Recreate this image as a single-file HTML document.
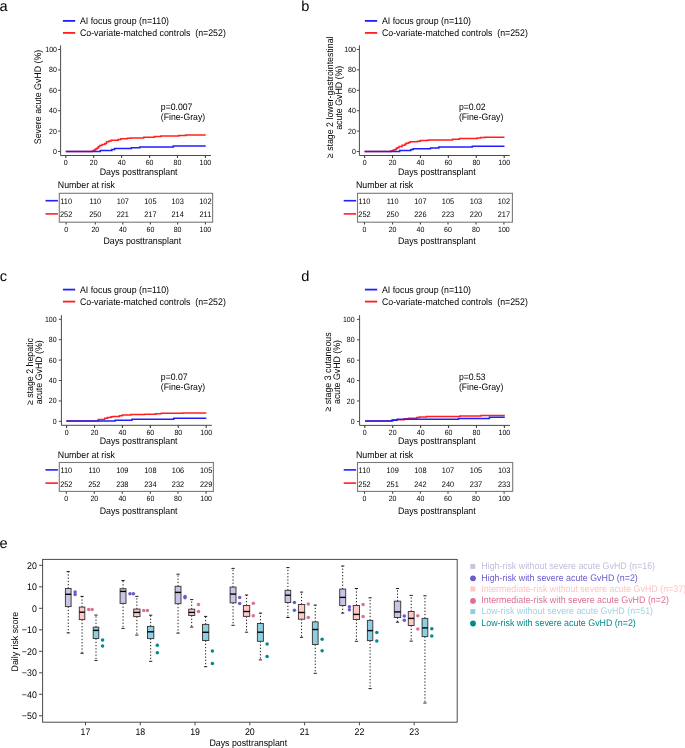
<!DOCTYPE html><html><head><meta charset="utf-8"><style>html,body{margin:0;padding:0;background:#fff;width:685px;height:748px;overflow:hidden}svg{display:block;filter:blur(0.35px)}text{font-family:"Liberation Sans", sans-serif;text-rendering:geometricPrecision}</style></head><body>
<svg width="685" height="748" viewBox="0 0 685 748">
<rect width="685" height="748" fill="#fff"/>
<text x="-0.6" y="10.8" font-size="14.6" fill="#000">a</text>
<text x="301.2" y="10.8" font-size="14.6" fill="#000">b</text>
<text x="-0.2" y="281.1" font-size="14.6" fill="#000">c</text>
<text x="301.2" y="280.8" font-size="14.6" fill="#000">d</text>
<text x="-0.4" y="548.4" font-size="14.6" fill="#000">e</text>
<g stroke-width="1.8" fill="none"><path d="M62.9 20.9H75.2" stroke="#1f1fff"/><path d="M62.9 32.9H75.2" stroke="#ff1f1f"/></g>
<text transform="translate(79.9 23.8) scale(0.9259 1)" font-size="9.5" fill="#000">AI focus group (n=110)</text>
<text transform="translate(79.9 36) scale(0.9259 1)" font-size="9.5" fill="#000" xml:space="preserve">Co-variate-matched controls  (n=252)</text>
<path d="M60.6 45.3V155.5H211" stroke="#4a4a4a" stroke-width="1" fill="none"/>
<path d="M58 151.5H60.6" stroke="#4a4a4a" stroke-width="1"/>
<text transform="translate(56.9 154) scale(0.9259 1)" font-size="7.56" fill="#000" text-anchor="end">0</text>
<path d="M58 131.1H60.6" stroke="#4a4a4a" stroke-width="1"/>
<text transform="translate(56.9 133.6) scale(0.9259 1)" font-size="7.56" fill="#000" text-anchor="end">20</text>
<path d="M58 110.7H60.6" stroke="#4a4a4a" stroke-width="1"/>
<text transform="translate(56.9 113.2) scale(0.9259 1)" font-size="7.56" fill="#000" text-anchor="end">40</text>
<path d="M58 90.3H60.6" stroke="#4a4a4a" stroke-width="1"/>
<text transform="translate(56.9 92.8) scale(0.9259 1)" font-size="7.56" fill="#000" text-anchor="end">60</text>
<path d="M58 69.9H60.6" stroke="#4a4a4a" stroke-width="1"/>
<text transform="translate(56.9 72.4) scale(0.9259 1)" font-size="7.56" fill="#000" text-anchor="end">80</text>
<path d="M58 49.5H60.6" stroke="#4a4a4a" stroke-width="1"/>
<text transform="translate(56.9 52) scale(0.9259 1)" font-size="7.56" fill="#000" text-anchor="end">100</text>
<path d="M65.8 155.5V158.1" stroke="#3a3a3a" stroke-width="1.1"/>
<text transform="translate(65.8 164.8) scale(0.9259 1)" font-size="7.56" fill="#000" text-anchor="middle">0</text>
<path d="M93.72 155.5V158.1" stroke="#3a3a3a" stroke-width="1.1"/>
<text transform="translate(93.72 164.8) scale(0.9259 1)" font-size="7.56" fill="#000" text-anchor="middle">20</text>
<path d="M121.64 155.5V158.1" stroke="#3a3a3a" stroke-width="1.1"/>
<text transform="translate(121.64 164.8) scale(0.9259 1)" font-size="7.56" fill="#000" text-anchor="middle">40</text>
<path d="M149.56 155.5V158.1" stroke="#3a3a3a" stroke-width="1.1"/>
<text transform="translate(149.56 164.8) scale(0.9259 1)" font-size="7.56" fill="#000" text-anchor="middle">60</text>
<path d="M177.48 155.5V158.1" stroke="#3a3a3a" stroke-width="1.1"/>
<text transform="translate(177.48 164.8) scale(0.9259 1)" font-size="7.56" fill="#000" text-anchor="middle">80</text>
<path d="M205.4 155.5V158.1" stroke="#3a3a3a" stroke-width="1.1"/>
<text transform="translate(205.4 164.8) scale(0.9259 1)" font-size="7.56" fill="#000" text-anchor="middle">100</text>
<text transform="translate(138.6 175) scale(0.9259 1)" font-size="9.5" fill="#000" text-anchor="middle">Days posttransplant</text>
<text transform="translate(40.9 97) rotate(-90) scale(0.9259 1)" font-size="9.5" fill="#000" text-anchor="middle">Severe acute GvHD (%)</text>
<text transform="translate(160.8 109.6) scale(0.9259 1)" font-size="9.4" fill="#000">p=0.007</text>
<text transform="translate(160.8 120.1) scale(0.9259 1)" font-size="9.4" fill="#000">(Fine-Gray)</text>
<path d="M65.8 151.6H92.2V150.9H93.6V150.2H95V149.5H96V148.8H97.1V148.1H98.3V146.8H99.6V145.5H102V144.6H104.8V143.4H106.6V141.8H109V141.1H111.1V140.3H118.1V139.6H120.9V138.8H127.2V138.3H130.7V138H143.7V137.3H154.5V136.5H160.8V136.1H178.8V135.6H185.8V135.1H205.7" stroke="#ff1f1f" stroke-width="1.5" fill="none"/>
<path d="M65.8 151.6H100.3V150.6H111.8V149.4H114.6V148.6H131.4V147.8H139.8V146.9H173.3V146.1H205.7" stroke="#1f1fff" stroke-width="1.5" fill="none"/>
<text transform="translate(57.8 187.7) scale(0.9259 1)" font-size="9.5" fill="#000">Number at risk</text>
<rect x="59.3" y="193.3" width="153.3" height="28.9" fill="none" stroke="#7a7a7a" stroke-width="1.1"/>
<path d="M45.5 200.7H57.9" stroke="#1f1fff" stroke-width="1.6"/>
<path d="M45.5 213.9H57.9" stroke="#ff1f1f" stroke-width="1.6"/>
<text transform="translate(66.1 203.6) scale(0.9259 1)" font-size="7.99" fill="#000" text-anchor="middle">110</text>
<text transform="translate(66.1 216.7) scale(0.9259 1)" font-size="7.99" fill="#000" text-anchor="middle">252</text>
<path d="M66.1 222.2V224.6" stroke="#484848" stroke-width="1.1"/>
<text transform="translate(66.1 231.7) scale(0.9259 1)" font-size="7.56" fill="#000" text-anchor="middle">0</text>
<text transform="translate(95.3 203.6) scale(0.9259 1)" font-size="7.99" fill="#000" text-anchor="middle">110</text>
<text transform="translate(95.3 216.7) scale(0.9259 1)" font-size="7.99" fill="#000" text-anchor="middle">250</text>
<path d="M95.3 222.2V224.6" stroke="#484848" stroke-width="1.1"/>
<text transform="translate(95.3 231.7) scale(0.9259 1)" font-size="7.56" fill="#000" text-anchor="middle">20</text>
<text transform="translate(122.8 203.6) scale(0.9259 1)" font-size="7.99" fill="#000" text-anchor="middle">107</text>
<text transform="translate(122.8 216.7) scale(0.9259 1)" font-size="7.99" fill="#000" text-anchor="middle">221</text>
<path d="M122.8 222.2V224.6" stroke="#484848" stroke-width="1.1"/>
<text transform="translate(122.8 231.7) scale(0.9259 1)" font-size="7.56" fill="#000" text-anchor="middle">40</text>
<text transform="translate(150.4 203.6) scale(0.9259 1)" font-size="7.99" fill="#000" text-anchor="middle">105</text>
<text transform="translate(150.4 216.7) scale(0.9259 1)" font-size="7.99" fill="#000" text-anchor="middle">217</text>
<path d="M150.4 222.2V224.6" stroke="#484848" stroke-width="1.1"/>
<text transform="translate(150.4 231.7) scale(0.9259 1)" font-size="7.56" fill="#000" text-anchor="middle">60</text>
<text transform="translate(177.6 203.6) scale(0.9259 1)" font-size="7.99" fill="#000" text-anchor="middle">103</text>
<text transform="translate(177.6 216.7) scale(0.9259 1)" font-size="7.99" fill="#000" text-anchor="middle">214</text>
<path d="M177.6 222.2V224.6" stroke="#484848" stroke-width="1.1"/>
<text transform="translate(177.6 231.7) scale(0.9259 1)" font-size="7.56" fill="#000" text-anchor="middle">80</text>
<text transform="translate(205.4 203.6) scale(0.9259 1)" font-size="7.99" fill="#000" text-anchor="middle">102</text>
<text transform="translate(205.4 216.7) scale(0.9259 1)" font-size="7.99" fill="#000" text-anchor="middle">211</text>
<path d="M205.4 222.2V224.6" stroke="#484848" stroke-width="1.1"/>
<text transform="translate(205.4 231.7) scale(0.9259 1)" font-size="7.56" fill="#000" text-anchor="middle">100</text>
<text transform="translate(142.3 244) scale(0.9259 1)" font-size="9.5" fill="#000" text-anchor="middle">Days posttransplant</text>
<g stroke-width="1.8" fill="none"><path d="M364.9 20.9H377.2" stroke="#1f1fff"/><path d="M364.9 32.9H377.2" stroke="#ff1f1f"/></g>
<text transform="translate(381.9 23.8) scale(0.9259 1)" font-size="9.5" fill="#000">AI focus group (n=110)</text>
<text transform="translate(381.9 36) scale(0.9259 1)" font-size="9.5" fill="#000" xml:space="preserve">Co-variate-matched controls  (n=252)</text>
<path d="M359.4 45.3V155.5H509.8" stroke="#4a4a4a" stroke-width="1" fill="none"/>
<path d="M356.8 151.5H359.4" stroke="#4a4a4a" stroke-width="1"/>
<text transform="translate(355.9 154) scale(0.9259 1)" font-size="7.56" fill="#000" text-anchor="end">0</text>
<path d="M356.8 131.1H359.4" stroke="#4a4a4a" stroke-width="1"/>
<text transform="translate(355.9 133.6) scale(0.9259 1)" font-size="7.56" fill="#000" text-anchor="end">20</text>
<path d="M356.8 110.7H359.4" stroke="#4a4a4a" stroke-width="1"/>
<text transform="translate(355.9 113.2) scale(0.9259 1)" font-size="7.56" fill="#000" text-anchor="end">40</text>
<path d="M356.8 90.3H359.4" stroke="#4a4a4a" stroke-width="1"/>
<text transform="translate(355.9 92.8) scale(0.9259 1)" font-size="7.56" fill="#000" text-anchor="end">60</text>
<path d="M356.8 69.9H359.4" stroke="#4a4a4a" stroke-width="1"/>
<text transform="translate(355.9 72.4) scale(0.9259 1)" font-size="7.56" fill="#000" text-anchor="end">80</text>
<path d="M356.8 49.5H359.4" stroke="#4a4a4a" stroke-width="1"/>
<text transform="translate(355.9 52) scale(0.9259 1)" font-size="7.56" fill="#000" text-anchor="end">100</text>
<path d="M364.6 155.5V158.1" stroke="#3a3a3a" stroke-width="1.1"/>
<text transform="translate(364.6 164.8) scale(0.9259 1)" font-size="7.56" fill="#000" text-anchor="middle">0</text>
<path d="M392.52 155.5V158.1" stroke="#3a3a3a" stroke-width="1.1"/>
<text transform="translate(392.52 164.8) scale(0.9259 1)" font-size="7.56" fill="#000" text-anchor="middle">20</text>
<path d="M420.44 155.5V158.1" stroke="#3a3a3a" stroke-width="1.1"/>
<text transform="translate(420.44 164.8) scale(0.9259 1)" font-size="7.56" fill="#000" text-anchor="middle">40</text>
<path d="M448.36 155.5V158.1" stroke="#3a3a3a" stroke-width="1.1"/>
<text transform="translate(448.36 164.8) scale(0.9259 1)" font-size="7.56" fill="#000" text-anchor="middle">60</text>
<path d="M476.28 155.5V158.1" stroke="#3a3a3a" stroke-width="1.1"/>
<text transform="translate(476.28 164.8) scale(0.9259 1)" font-size="7.56" fill="#000" text-anchor="middle">80</text>
<path d="M504.2 155.5V158.1" stroke="#3a3a3a" stroke-width="1.1"/>
<text transform="translate(504.2 164.8) scale(0.9259 1)" font-size="7.56" fill="#000" text-anchor="middle">100</text>
<text transform="translate(436.8 175) scale(0.9259 1)" font-size="9.5" fill="#000" text-anchor="middle">Days posttransplant</text>
<text transform="translate(332.8 97.3) rotate(-90) scale(0.9259 1)" font-size="9.5" fill="#000" text-anchor="middle">≥ stage 2 lower-gastrointestinal</text>
<text transform="translate(341.8 97.8) rotate(-90) scale(0.9259 1)" font-size="9.5" fill="#000" text-anchor="middle">acute GvHD (%)</text>
<text transform="translate(458.9 109.6) scale(0.9259 1)" font-size="9.4" fill="#000">p=0.02</text>
<text transform="translate(458.9 120.1) scale(0.9259 1)" font-size="9.4" fill="#000">(Fine-Gray)</text>
<path d="M364.6 151.6H391.3V150.8H393.2V150.1H395.1V149.5H396.2V148.6H397.2V147.8H399V146.4H402.1V145.3H404.9V144.3H406V143.2H408.4V142.5H410.2V141.7H417.5V141.2H420.3V140.6H427.3V140.3H429V139.9H452.5V139.2H459.5V138.5H477.1V138H480.6V137.5H484.8V137.3H504.5" stroke="#ff1f1f" stroke-width="1.5" fill="none"/>
<path d="M364.6 151.6H399.7V150.6H410.9V149.5H413.3V148.7H430.5V148H438.9V147.1H472.3V146.2H504.5" stroke="#1f1fff" stroke-width="1.5" fill="none"/>
<text transform="translate(356 187.7) scale(0.9259 1)" font-size="9.5" fill="#000">Number at risk</text>
<rect x="357.5" y="193.3" width="154.9" height="28.9" fill="none" stroke="#7a7a7a" stroke-width="1.1"/>
<path d="M343.7 200.7H356.1" stroke="#1f1fff" stroke-width="1.6"/>
<path d="M343.7 213.9H356.1" stroke="#ff1f1f" stroke-width="1.6"/>
<text transform="translate(364.5 203.6) scale(0.9259 1)" font-size="7.99" fill="#000" text-anchor="middle">110</text>
<text transform="translate(364.5 216.7) scale(0.9259 1)" font-size="7.99" fill="#000" text-anchor="middle">252</text>
<path d="M364.5 222.2V224.6" stroke="#484848" stroke-width="1.1"/>
<text transform="translate(364.5 231.7) scale(0.9259 1)" font-size="7.56" fill="#000" text-anchor="middle">0</text>
<text transform="translate(392.6 203.6) scale(0.9259 1)" font-size="7.99" fill="#000" text-anchor="middle">110</text>
<text transform="translate(392.6 216.7) scale(0.9259 1)" font-size="7.99" fill="#000" text-anchor="middle">250</text>
<path d="M392.6 222.2V224.6" stroke="#484848" stroke-width="1.1"/>
<text transform="translate(392.6 231.7) scale(0.9259 1)" font-size="7.56" fill="#000" text-anchor="middle">20</text>
<text transform="translate(420.4 203.6) scale(0.9259 1)" font-size="7.99" fill="#000" text-anchor="middle">107</text>
<text transform="translate(420.4 216.7) scale(0.9259 1)" font-size="7.99" fill="#000" text-anchor="middle">226</text>
<path d="M420.4 222.2V224.6" stroke="#484848" stroke-width="1.1"/>
<text transform="translate(420.4 231.7) scale(0.9259 1)" font-size="7.56" fill="#000" text-anchor="middle">40</text>
<text transform="translate(448 203.6) scale(0.9259 1)" font-size="7.99" fill="#000" text-anchor="middle">105</text>
<text transform="translate(448 216.7) scale(0.9259 1)" font-size="7.99" fill="#000" text-anchor="middle">223</text>
<path d="M448 222.2V224.6" stroke="#484848" stroke-width="1.1"/>
<text transform="translate(448 231.7) scale(0.9259 1)" font-size="7.56" fill="#000" text-anchor="middle">60</text>
<text transform="translate(476 203.6) scale(0.9259 1)" font-size="7.99" fill="#000" text-anchor="middle">103</text>
<text transform="translate(476 216.7) scale(0.9259 1)" font-size="7.99" fill="#000" text-anchor="middle">220</text>
<path d="M476 222.2V224.6" stroke="#484848" stroke-width="1.1"/>
<text transform="translate(476 231.7) scale(0.9259 1)" font-size="7.56" fill="#000" text-anchor="middle">80</text>
<text transform="translate(503.9 203.6) scale(0.9259 1)" font-size="7.99" fill="#000" text-anchor="middle">102</text>
<text transform="translate(503.9 216.7) scale(0.9259 1)" font-size="7.99" fill="#000" text-anchor="middle">217</text>
<path d="M503.9 222.2V224.6" stroke="#484848" stroke-width="1.1"/>
<text transform="translate(503.9 231.7) scale(0.9259 1)" font-size="7.56" fill="#000" text-anchor="middle">100</text>
<text transform="translate(436.8 244) scale(0.9259 1)" font-size="9.5" fill="#000" text-anchor="middle">Days posttransplant</text>
<g stroke-width="1.8" fill="none"><path d="M62.9 289.6H75.2" stroke="#1f1fff"/><path d="M62.9 301.6H75.2" stroke="#ff1f1f"/></g>
<text transform="translate(79.9 292.5) scale(0.9259 1)" font-size="9.5" fill="#000">AI focus group (n=110)</text>
<text transform="translate(79.9 304.7) scale(0.9259 1)" font-size="9.5" fill="#000" xml:space="preserve">Co-variate-matched controls  (n=252)</text>
<path d="M61.4 315.1V425.3H211.8" stroke="#4a4a4a" stroke-width="1" fill="none"/>
<path d="M58.8 421.3H61.4" stroke="#4a4a4a" stroke-width="1"/>
<text transform="translate(56.6 423.8) scale(0.9259 1)" font-size="7.56" fill="#000" text-anchor="end">0</text>
<path d="M58.8 400.9H61.4" stroke="#4a4a4a" stroke-width="1"/>
<text transform="translate(56.6 403.4) scale(0.9259 1)" font-size="7.56" fill="#000" text-anchor="end">20</text>
<path d="M58.8 380.5H61.4" stroke="#4a4a4a" stroke-width="1"/>
<text transform="translate(56.6 383) scale(0.9259 1)" font-size="7.56" fill="#000" text-anchor="end">40</text>
<path d="M58.8 360.1H61.4" stroke="#4a4a4a" stroke-width="1"/>
<text transform="translate(56.6 362.6) scale(0.9259 1)" font-size="7.56" fill="#000" text-anchor="end">60</text>
<path d="M58.8 339.7H61.4" stroke="#4a4a4a" stroke-width="1"/>
<text transform="translate(56.6 342.2) scale(0.9259 1)" font-size="7.56" fill="#000" text-anchor="end">80</text>
<path d="M58.8 319.3H61.4" stroke="#4a4a4a" stroke-width="1"/>
<text transform="translate(56.6 321.8) scale(0.9259 1)" font-size="7.56" fill="#000" text-anchor="end">100</text>
<path d="M66.6 425.3V427.9" stroke="#3a3a3a" stroke-width="1.1"/>
<text transform="translate(66.6 434.6) scale(0.9259 1)" font-size="7.56" fill="#000" text-anchor="middle">0</text>
<path d="M94.52 425.3V427.9" stroke="#3a3a3a" stroke-width="1.1"/>
<text transform="translate(94.52 434.6) scale(0.9259 1)" font-size="7.56" fill="#000" text-anchor="middle">20</text>
<path d="M122.44 425.3V427.9" stroke="#3a3a3a" stroke-width="1.1"/>
<text transform="translate(122.44 434.6) scale(0.9259 1)" font-size="7.56" fill="#000" text-anchor="middle">40</text>
<path d="M150.36 425.3V427.9" stroke="#3a3a3a" stroke-width="1.1"/>
<text transform="translate(150.36 434.6) scale(0.9259 1)" font-size="7.56" fill="#000" text-anchor="middle">60</text>
<path d="M178.28 425.3V427.9" stroke="#3a3a3a" stroke-width="1.1"/>
<text transform="translate(178.28 434.6) scale(0.9259 1)" font-size="7.56" fill="#000" text-anchor="middle">80</text>
<path d="M206.2 425.3V427.9" stroke="#3a3a3a" stroke-width="1.1"/>
<text transform="translate(206.2 434.6) scale(0.9259 1)" font-size="7.56" fill="#000" text-anchor="middle">100</text>
<text transform="translate(138.6 444) scale(0.9259 1)" font-size="9.5" fill="#000" text-anchor="middle">Days posttransplant</text>
<text transform="translate(33 371.6) rotate(-90) scale(0.9259 1)" font-size="9.5" fill="#000" text-anchor="middle">≥ stage 2 hepatic</text>
<text transform="translate(41.8 372.3) rotate(-90) scale(0.9259 1)" font-size="9.5" fill="#000" text-anchor="middle">acute GvHD (%)</text>
<text transform="translate(160.8 379.6) scale(0.9259 1)" font-size="9.4" fill="#000">p=0.07</text>
<text transform="translate(160.8 390.1) scale(0.9259 1)" font-size="9.4" fill="#000">(Fine-Gray)</text>
<path d="M66.4 421.1H98.1V419.4H104.7V418.3H107.5V417.4H111V416.7H113.1V416.4H119.4V415.7H122.2V415H131V414.6H144.4V414.2H155.6V413.8H161.2V413.3H182.6V412.9H206.3" stroke="#ff1f1f" stroke-width="1.5" fill="none"/>
<path d="M66.4 421.1H115.2V420.3H132V419.3H173.8V418.3H206.3" stroke="#1f1fff" stroke-width="1.5" fill="none"/>
<text transform="translate(57.8 457.5) scale(0.9259 1)" font-size="9.5" fill="#000">Number at risk</text>
<rect x="59.3" y="462.5" width="154.1" height="28.9" fill="none" stroke="#7a7a7a" stroke-width="1.1"/>
<path d="M45.5 469.9H57.9" stroke="#1f1fff" stroke-width="1.6"/>
<path d="M45.5 483.1H57.9" stroke="#ff1f1f" stroke-width="1.6"/>
<text transform="translate(66.3 473.4) scale(0.9259 1)" font-size="7.99" fill="#000" text-anchor="middle">110</text>
<text transform="translate(66.3 486.5) scale(0.9259 1)" font-size="7.99" fill="#000" text-anchor="middle">252</text>
<path d="M66.3 491.4V493.8" stroke="#484848" stroke-width="1.1"/>
<text transform="translate(66.3 500.9) scale(0.9259 1)" font-size="7.56" fill="#000" text-anchor="middle">0</text>
<text transform="translate(94.3 473.4) scale(0.9259 1)" font-size="7.99" fill="#000" text-anchor="middle">110</text>
<text transform="translate(94.3 486.5) scale(0.9259 1)" font-size="7.99" fill="#000" text-anchor="middle">252</text>
<path d="M94.3 491.4V493.8" stroke="#484848" stroke-width="1.1"/>
<text transform="translate(94.3 500.9) scale(0.9259 1)" font-size="7.56" fill="#000" text-anchor="middle">20</text>
<text transform="translate(122.3 473.4) scale(0.9259 1)" font-size="7.99" fill="#000" text-anchor="middle">109</text>
<text transform="translate(122.3 486.5) scale(0.9259 1)" font-size="7.99" fill="#000" text-anchor="middle">238</text>
<path d="M122.3 491.4V493.8" stroke="#484848" stroke-width="1.1"/>
<text transform="translate(122.3 500.9) scale(0.9259 1)" font-size="7.56" fill="#000" text-anchor="middle">40</text>
<text transform="translate(150.4 473.4) scale(0.9259 1)" font-size="7.99" fill="#000" text-anchor="middle">108</text>
<text transform="translate(150.4 486.5) scale(0.9259 1)" font-size="7.99" fill="#000" text-anchor="middle">234</text>
<path d="M150.4 491.4V493.8" stroke="#484848" stroke-width="1.1"/>
<text transform="translate(150.4 500.9) scale(0.9259 1)" font-size="7.56" fill="#000" text-anchor="middle">60</text>
<text transform="translate(178 473.4) scale(0.9259 1)" font-size="7.99" fill="#000" text-anchor="middle">106</text>
<text transform="translate(178 486.5) scale(0.9259 1)" font-size="7.99" fill="#000" text-anchor="middle">232</text>
<path d="M178 491.4V493.8" stroke="#484848" stroke-width="1.1"/>
<text transform="translate(178 500.9) scale(0.9259 1)" font-size="7.56" fill="#000" text-anchor="middle">80</text>
<text transform="translate(206.1 473.4) scale(0.9259 1)" font-size="7.99" fill="#000" text-anchor="middle">105</text>
<text transform="translate(206.1 486.5) scale(0.9259 1)" font-size="7.99" fill="#000" text-anchor="middle">229</text>
<path d="M206.1 491.4V493.8" stroke="#484848" stroke-width="1.1"/>
<text transform="translate(206.1 500.9) scale(0.9259 1)" font-size="7.56" fill="#000" text-anchor="middle">100</text>
<text transform="translate(138.6 513.9) scale(0.9259 1)" font-size="9.5" fill="#000" text-anchor="middle">Days posttransplant</text>
<g stroke-width="1.8" fill="none"><path d="M364.9 289.6H377.2" stroke="#1f1fff"/><path d="M364.9 301.6H377.2" stroke="#ff1f1f"/></g>
<text transform="translate(381.9 292.5) scale(0.9259 1)" font-size="9.5" fill="#000">AI focus group (n=110)</text>
<text transform="translate(381.9 304.7) scale(0.9259 1)" font-size="9.5" fill="#000" xml:space="preserve">Co-variate-matched controls  (n=252)</text>
<path d="M359.6 315.2V425.4H510" stroke="#4a4a4a" stroke-width="1" fill="none"/>
<path d="M357 421.4H359.6" stroke="#4a4a4a" stroke-width="1"/>
<text transform="translate(354.6 423.9) scale(0.9259 1)" font-size="7.56" fill="#000" text-anchor="end">0</text>
<path d="M357 401H359.6" stroke="#4a4a4a" stroke-width="1"/>
<text transform="translate(354.6 403.5) scale(0.9259 1)" font-size="7.56" fill="#000" text-anchor="end">20</text>
<path d="M357 380.6H359.6" stroke="#4a4a4a" stroke-width="1"/>
<text transform="translate(354.6 383.1) scale(0.9259 1)" font-size="7.56" fill="#000" text-anchor="end">40</text>
<path d="M357 360.2H359.6" stroke="#4a4a4a" stroke-width="1"/>
<text transform="translate(354.6 362.7) scale(0.9259 1)" font-size="7.56" fill="#000" text-anchor="end">60</text>
<path d="M357 339.8H359.6" stroke="#4a4a4a" stroke-width="1"/>
<text transform="translate(354.6 342.3) scale(0.9259 1)" font-size="7.56" fill="#000" text-anchor="end">80</text>
<path d="M357 319.4H359.6" stroke="#4a4a4a" stroke-width="1"/>
<text transform="translate(354.6 321.9) scale(0.9259 1)" font-size="7.56" fill="#000" text-anchor="end">100</text>
<path d="M364.8 425.4V428" stroke="#3a3a3a" stroke-width="1.1"/>
<text transform="translate(364.8 434.7) scale(0.9259 1)" font-size="7.56" fill="#000" text-anchor="middle">0</text>
<path d="M392.72 425.4V428" stroke="#3a3a3a" stroke-width="1.1"/>
<text transform="translate(392.72 434.7) scale(0.9259 1)" font-size="7.56" fill="#000" text-anchor="middle">20</text>
<path d="M420.64 425.4V428" stroke="#3a3a3a" stroke-width="1.1"/>
<text transform="translate(420.64 434.7) scale(0.9259 1)" font-size="7.56" fill="#000" text-anchor="middle">40</text>
<path d="M448.56 425.4V428" stroke="#3a3a3a" stroke-width="1.1"/>
<text transform="translate(448.56 434.7) scale(0.9259 1)" font-size="7.56" fill="#000" text-anchor="middle">60</text>
<path d="M476.48 425.4V428" stroke="#3a3a3a" stroke-width="1.1"/>
<text transform="translate(476.48 434.7) scale(0.9259 1)" font-size="7.56" fill="#000" text-anchor="middle">80</text>
<path d="M504.4 425.4V428" stroke="#3a3a3a" stroke-width="1.1"/>
<text transform="translate(504.4 434.7) scale(0.9259 1)" font-size="7.56" fill="#000" text-anchor="middle">100</text>
<text transform="translate(436.8 444) scale(0.9259 1)" font-size="9.5" fill="#000" text-anchor="middle">Days posttransplant</text>
<text transform="translate(331.3 372) rotate(-90) scale(0.9259 1)" font-size="9.5" fill="#000" text-anchor="middle">≥ stage 3 cutaneous</text>
<text transform="translate(339.7 372) rotate(-90) scale(0.9259 1)" font-size="9.5" fill="#000" text-anchor="middle">acute GvHD (%)</text>
<text transform="translate(458.9 379.6) scale(0.9259 1)" font-size="9.4" fill="#000">p=0.53</text>
<text transform="translate(458.9 390.1) scale(0.9259 1)" font-size="9.4" fill="#000">(Fine-Gray)</text>
<path d="M365.1 421.1H392.8V419.8H404.2V418.8H408.4V418.3H416.8V417.6H419.3V416.9H426.6V416.5H459.9V416.1H481V415.5H504.8" stroke="#ff1f1f" stroke-width="1.5" fill="none"/>
<path d="M365.1 421.1H391.6V420.2H397.2V419.3H458.5V418.4H489.4V417.3H504.8" stroke="#1f1fff" stroke-width="1.5" fill="none"/>
<text transform="translate(356 457.5) scale(0.9259 1)" font-size="9.5" fill="#000">Number at risk</text>
<rect x="357.5" y="462.5" width="155.2" height="28.9" fill="none" stroke="#7a7a7a" stroke-width="1.1"/>
<path d="M343.7 469.9H356.1" stroke="#1f1fff" stroke-width="1.6"/>
<path d="M343.7 483.1H356.1" stroke="#ff1f1f" stroke-width="1.6"/>
<text transform="translate(364.5 473.4) scale(0.9259 1)" font-size="7.99" fill="#000" text-anchor="middle">110</text>
<text transform="translate(364.5 486.5) scale(0.9259 1)" font-size="7.99" fill="#000" text-anchor="middle">252</text>
<path d="M364.5 491.4V493.8" stroke="#484848" stroke-width="1.1"/>
<text transform="translate(364.5 500.9) scale(0.9259 1)" font-size="7.56" fill="#000" text-anchor="middle">0</text>
<text transform="translate(392.6 473.4) scale(0.9259 1)" font-size="7.99" fill="#000" text-anchor="middle">109</text>
<text transform="translate(392.6 486.5) scale(0.9259 1)" font-size="7.99" fill="#000" text-anchor="middle">251</text>
<path d="M392.6 491.4V493.8" stroke="#484848" stroke-width="1.1"/>
<text transform="translate(392.6 500.9) scale(0.9259 1)" font-size="7.56" fill="#000" text-anchor="middle">20</text>
<text transform="translate(420.4 473.4) scale(0.9259 1)" font-size="7.99" fill="#000" text-anchor="middle">108</text>
<text transform="translate(420.4 486.5) scale(0.9259 1)" font-size="7.99" fill="#000" text-anchor="middle">242</text>
<path d="M420.4 491.4V493.8" stroke="#484848" stroke-width="1.1"/>
<text transform="translate(420.4 500.9) scale(0.9259 1)" font-size="7.56" fill="#000" text-anchor="middle">40</text>
<text transform="translate(448 473.4) scale(0.9259 1)" font-size="7.99" fill="#000" text-anchor="middle">107</text>
<text transform="translate(448 486.5) scale(0.9259 1)" font-size="7.99" fill="#000" text-anchor="middle">240</text>
<path d="M448 491.4V493.8" stroke="#484848" stroke-width="1.1"/>
<text transform="translate(448 500.9) scale(0.9259 1)" font-size="7.56" fill="#000" text-anchor="middle">60</text>
<text transform="translate(476 473.4) scale(0.9259 1)" font-size="7.99" fill="#000" text-anchor="middle">105</text>
<text transform="translate(476 486.5) scale(0.9259 1)" font-size="7.99" fill="#000" text-anchor="middle">237</text>
<path d="M476 491.4V493.8" stroke="#484848" stroke-width="1.1"/>
<text transform="translate(476 500.9) scale(0.9259 1)" font-size="7.56" fill="#000" text-anchor="middle">80</text>
<text transform="translate(504.1 473.4) scale(0.9259 1)" font-size="7.99" fill="#000" text-anchor="middle">103</text>
<text transform="translate(504.1 486.5) scale(0.9259 1)" font-size="7.99" fill="#000" text-anchor="middle">233</text>
<path d="M504.1 491.4V493.8" stroke="#484848" stroke-width="1.1"/>
<text transform="translate(504.1 500.9) scale(0.9259 1)" font-size="7.56" fill="#000" text-anchor="middle">100</text>
<text transform="translate(436.8 513.9) scale(0.9259 1)" font-size="9.5" fill="#000" text-anchor="middle">Days posttransplant</text>
<rect x="42.6" y="559.4" width="414.6" height="162.8" fill="none" stroke="#4a4a4a" stroke-width="1"/>
<path d="M39.1 565.3H42.6" stroke="#4a4a4a" stroke-width="1"/>
<text transform="translate(36.8 568.5) scale(0.9259 1)" font-size="9.5" fill="#000" text-anchor="end">20</text>
<path d="M39.1 586.8H42.6" stroke="#4a4a4a" stroke-width="1"/>
<text transform="translate(36.8 590) scale(0.9259 1)" font-size="9.5" fill="#000" text-anchor="end">10</text>
<path d="M39.1 608.3H42.6" stroke="#4a4a4a" stroke-width="1"/>
<text transform="translate(36.8 611.5) scale(0.9259 1)" font-size="9.5" fill="#000" text-anchor="end">0</text>
<path d="M39.1 629.8H42.6" stroke="#4a4a4a" stroke-width="1"/>
<text transform="translate(36.8 633) scale(0.9259 1)" font-size="9.5" fill="#000" text-anchor="end">−10</text>
<path d="M39.1 651.3H42.6" stroke="#4a4a4a" stroke-width="1"/>
<text transform="translate(36.8 654.5) scale(0.9259 1)" font-size="9.5" fill="#000" text-anchor="end">−20</text>
<path d="M39.1 672.8H42.6" stroke="#4a4a4a" stroke-width="1"/>
<text transform="translate(36.8 676) scale(0.9259 1)" font-size="9.5" fill="#000" text-anchor="end">−30</text>
<path d="M39.1 694.3H42.6" stroke="#4a4a4a" stroke-width="1"/>
<text transform="translate(36.8 697.5) scale(0.9259 1)" font-size="9.5" fill="#000" text-anchor="end">−40</text>
<path d="M39.1 715.8H42.6" stroke="#4a4a4a" stroke-width="1"/>
<text transform="translate(36.8 719) scale(0.9259 1)" font-size="9.5" fill="#000" text-anchor="end">−50</text>
<text transform="translate(18.3 641.6) rotate(-90) scale(0.9259 1)" font-size="9.5" fill="#000" text-anchor="middle">Daily risk score</text>
<path d="M85.5 722.2V725.4" stroke="#4a4a4a" stroke-width="1"/>
<text transform="translate(85.5 735.4) scale(0.9259 1)" font-size="9.5" fill="#000" text-anchor="middle">17</text>
<path d="M140.28 722.2V725.4" stroke="#4a4a4a" stroke-width="1"/>
<text transform="translate(140.28 735.4) scale(0.9259 1)" font-size="9.5" fill="#000" text-anchor="middle">18</text>
<path d="M195.06 722.2V725.4" stroke="#4a4a4a" stroke-width="1"/>
<text transform="translate(195.06 735.4) scale(0.9259 1)" font-size="9.5" fill="#000" text-anchor="middle">19</text>
<path d="M249.84 722.2V725.4" stroke="#4a4a4a" stroke-width="1"/>
<text transform="translate(249.84 735.4) scale(0.9259 1)" font-size="9.5" fill="#000" text-anchor="middle">20</text>
<path d="M304.62 722.2V725.4" stroke="#4a4a4a" stroke-width="1"/>
<text transform="translate(304.62 735.4) scale(0.9259 1)" font-size="9.5" fill="#000" text-anchor="middle">21</text>
<path d="M359.4 722.2V725.4" stroke="#4a4a4a" stroke-width="1"/>
<text transform="translate(359.4 735.4) scale(0.9259 1)" font-size="9.5" fill="#000" text-anchor="middle">22</text>
<path d="M414.18 722.2V725.4" stroke="#4a4a4a" stroke-width="1"/>
<text transform="translate(414.18 735.4) scale(0.9259 1)" font-size="9.5" fill="#000" text-anchor="middle">23</text>
<text transform="translate(248.3 745.8) scale(0.9259 1)" font-size="9.5" fill="#000" text-anchor="middle">Days posttransplant</text>
<path d="M68.25 588.5V571.6M68.25 606.6V632.9" stroke="#111" stroke-width="0.95" stroke-dasharray="1.3 1.9" fill="none"/>
<path d="M66.65 571.6H69.85M66.65 632.9H69.85" stroke="#111" stroke-width="0.95" fill="none"/>
<rect x="65.4" y="588.5" width="5.7" height="18.1" fill="#cbc3e3" stroke="#383838" stroke-width="0.95"/>
<path d="M65.4 594.3H71.1" stroke="#000" stroke-width="1.4"/>
<circle cx="75.1" cy="591.9" r="1.75" fill="#6a5acd"/>
<circle cx="75.1" cy="594.5" r="1.75" fill="#6a5acd"/>
<path d="M82.05 607.1V596.4M82.05 619.6V653.3" stroke="#111" stroke-width="0.95" stroke-dasharray="1.3 1.9" fill="none"/>
<path d="M80.45 596.4H83.65M80.45 653.3H83.65" stroke="#111" stroke-width="0.95" fill="none"/>
<rect x="79.3" y="607.1" width="5.5" height="12.5" fill="#ffc9c9" stroke="#383838" stroke-width="0.95"/>
<path d="M79.3 612.2H84.8" stroke="#000" stroke-width="1.4"/>
<circle cx="88.7" cy="609.5" r="1.75" fill="#db7093"/>
<circle cx="92.1" cy="609.5" r="1.75" fill="#db7093"/>
<path d="M96 627.2V615.1M96 638.5V660.4" stroke="#111" stroke-width="0.95" stroke-dasharray="1.3 1.9" fill="none"/>
<path d="M94.4 615.1H97.6M94.4 660.4H97.6" stroke="#111" stroke-width="0.95" fill="none"/>
<rect x="93.2" y="627.2" width="5.6" height="11.3" fill="#8fcfe3" stroke="#383838" stroke-width="0.95"/>
<path d="M93.2 630.4H98.8" stroke="#000" stroke-width="1.4"/>
<circle cx="102.6" cy="640.1" r="1.75" fill="#008b8b"/>
<circle cx="102.6" cy="646" r="1.75" fill="#008b8b"/>
<path d="M123.05 588.7V580.5M123.05 603.4V628.4" stroke="#111" stroke-width="0.95" stroke-dasharray="1.3 1.9" fill="none"/>
<path d="M121.45 580.5H124.65M121.45 628.4H124.65" stroke="#111" stroke-width="0.95" fill="none"/>
<rect x="120.1" y="588.7" width="5.9" height="14.7" fill="#cbc3e3" stroke="#383838" stroke-width="0.95"/>
<path d="M120.1 591.4H126" stroke="#000" stroke-width="1.4"/>
<circle cx="130" cy="593.8" r="1.75" fill="#6a5acd"/>
<circle cx="133.4" cy="593.8" r="1.75" fill="#6a5acd"/>
<path d="M136.85 609.1V596.4M136.85 616.6V635.1" stroke="#111" stroke-width="0.95" stroke-dasharray="1.3 1.9" fill="none"/>
<path d="M135.25 596.4H138.45M135.25 635.1H138.45" stroke="#111" stroke-width="0.95" fill="none"/>
<rect x="133.7" y="609.1" width="6.3" height="7.5" fill="#ffc9c9" stroke="#383838" stroke-width="0.95"/>
<path d="M133.7 612.4H140" stroke="#000" stroke-width="1.4"/>
<circle cx="143.7" cy="610.4" r="1.75" fill="#db7093"/>
<circle cx="147.4" cy="610.4" r="1.75" fill="#db7093"/>
<path d="M150.65 626.4V615.2M150.65 638.6V661.3" stroke="#111" stroke-width="0.95" stroke-dasharray="1.3 1.9" fill="none"/>
<path d="M149.05 615.2H152.25M149.05 661.3H152.25" stroke="#111" stroke-width="0.95" fill="none"/>
<rect x="147.5" y="626.4" width="6.3" height="12.2" fill="#8fcfe3" stroke="#383838" stroke-width="0.95"/>
<path d="M147.5 631.8H153.8" stroke="#000" stroke-width="1.4"/>
<circle cx="157.3" cy="645.2" r="1.75" fill="#008b8b"/>
<circle cx="157.3" cy="652.7" r="1.75" fill="#008b8b"/>
<path d="M178.05 586.3V574.2M178.05 603.7V633.1" stroke="#111" stroke-width="0.95" stroke-dasharray="1.3 1.9" fill="none"/>
<path d="M176.45 574.2H179.65M176.45 633.1H179.65" stroke="#111" stroke-width="0.95" fill="none"/>
<rect x="175.1" y="586.3" width="5.9" height="17.4" fill="#cbc3e3" stroke="#383838" stroke-width="0.95"/>
<path d="M175.1 592.4H181" stroke="#000" stroke-width="1.4"/>
<circle cx="185" cy="596.6" r="1.75" fill="#6a5acd"/>
<circle cx="185" cy="597.8" r="1.75" fill="#6a5acd"/>
<path d="M191.7 609.2V599.6M191.7 615.5V627.1" stroke="#111" stroke-width="0.95" stroke-dasharray="1.3 1.9" fill="none"/>
<path d="M190.1 599.6H193.3M190.1 627.1H193.3" stroke="#111" stroke-width="0.95" fill="none"/>
<rect x="188.7" y="609.2" width="6" height="6.3" fill="#ffc9c9" stroke="#383838" stroke-width="0.95"/>
<path d="M188.7 612.4H194.7" stroke="#000" stroke-width="1.4"/>
<circle cx="198.5" cy="604.5" r="1.75" fill="#db7093"/>
<circle cx="198.5" cy="611.5" r="1.75" fill="#db7093"/>
<path d="M205.65 624.4V616.4M205.65 640.5V666.7" stroke="#111" stroke-width="0.95" stroke-dasharray="1.3 1.9" fill="none"/>
<path d="M204.05 616.4H207.25M204.05 666.7H207.25" stroke="#111" stroke-width="0.95" fill="none"/>
<rect x="202.5" y="624.4" width="6.3" height="16.1" fill="#8fcfe3" stroke="#383838" stroke-width="0.95"/>
<path d="M202.5 632.3H208.8" stroke="#000" stroke-width="1.4"/>
<circle cx="212.4" cy="651" r="1.75" fill="#008b8b"/>
<circle cx="212.4" cy="663.5" r="1.75" fill="#008b8b"/>
<path d="M233.05 587.1V568.4M233.05 602.8V625.3" stroke="#111" stroke-width="0.95" stroke-dasharray="1.3 1.9" fill="none"/>
<path d="M231.45 568.4H234.65M231.45 625.3H234.65" stroke="#111" stroke-width="0.95" fill="none"/>
<rect x="230.1" y="587.1" width="5.9" height="15.7" fill="#cbc3e3" stroke="#383838" stroke-width="0.95"/>
<path d="M230.1 594.1H236" stroke="#000" stroke-width="1.4"/>
<circle cx="239.7" cy="597.4" r="1.75" fill="#6a5acd"/>
<circle cx="239.7" cy="603.4" r="1.75" fill="#6a5acd"/>
<path d="M246.55 605.5V595M246.55 616.4V632.2" stroke="#111" stroke-width="0.95" stroke-dasharray="1.3 1.9" fill="none"/>
<path d="M244.95 595H248.15M244.95 632.2H248.15" stroke="#111" stroke-width="0.95" fill="none"/>
<rect x="243.4" y="605.5" width="6.3" height="10.9" fill="#ffc9c9" stroke="#383838" stroke-width="0.95"/>
<path d="M243.4 611.5H249.7" stroke="#000" stroke-width="1.4"/>
<circle cx="253.3" cy="603.2" r="1.75" fill="#db7093"/>
<circle cx="253.3" cy="615.7" r="1.75" fill="#db7093"/>
<path d="M260.4 623.5V613.1M260.4 641.3V659.9" stroke="#111" stroke-width="0.95" stroke-dasharray="1.3 1.9" fill="none"/>
<path d="M258.8 613.1H262M258.8 659.9H262" stroke="#111" stroke-width="0.95" fill="none"/>
<rect x="257.4" y="623.5" width="6" height="17.8" fill="#8fcfe3" stroke="#383838" stroke-width="0.95"/>
<path d="M257.4 632.2H263.4" stroke="#000" stroke-width="1.4"/>
<circle cx="267.1" cy="644.1" r="1.75" fill="#008b8b"/>
<circle cx="267.1" cy="656.5" r="1.75" fill="#008b8b"/>
<path d="M287.9 590.3V567.6M287.9 602.5V617.5" stroke="#111" stroke-width="0.95" stroke-dasharray="1.3 1.9" fill="none"/>
<path d="M286.3 567.6H289.5M286.3 617.5H289.5" stroke="#111" stroke-width="0.95" fill="none"/>
<rect x="285.1" y="590.3" width="5.6" height="12.2" fill="#cbc3e3" stroke="#383838" stroke-width="0.95"/>
<path d="M285.1 595.2H290.7" stroke="#000" stroke-width="1.4"/>
<circle cx="294.4" cy="602.5" r="1.75" fill="#6a5acd"/>
<circle cx="294.4" cy="610.3" r="1.75" fill="#6a5acd"/>
<path d="M301.55 604.5V592.1M301.55 619.2V637.3" stroke="#111" stroke-width="0.95" stroke-dasharray="1.3 1.9" fill="none"/>
<path d="M299.95 592.1H303.15M299.95 637.3H303.15" stroke="#111" stroke-width="0.95" fill="none"/>
<rect x="298.4" y="604.5" width="6.3" height="14.7" fill="#ffc9c9" stroke="#383838" stroke-width="0.95"/>
<path d="M298.4 612.5H304.7" stroke="#000" stroke-width="1.4"/>
<circle cx="308.3" cy="604.1" r="1.75" fill="#db7093"/>
<circle cx="308.3" cy="617.5" r="1.75" fill="#db7093"/>
<path d="M315.25 621.9V605.1M315.25 644.5V673.3" stroke="#111" stroke-width="0.95" stroke-dasharray="1.3 1.9" fill="none"/>
<path d="M313.65 605.1H316.85M313.65 673.3H316.85" stroke="#111" stroke-width="0.95" fill="none"/>
<rect x="312.4" y="621.9" width="5.7" height="22.6" fill="#8fcfe3" stroke="#383838" stroke-width="0.95"/>
<path d="M312.4 629.5H318.1" stroke="#000" stroke-width="1.4"/>
<circle cx="322.1" cy="639.3" r="1.75" fill="#008b8b"/>
<circle cx="322.1" cy="650.8" r="1.75" fill="#008b8b"/>
<path d="M342.7 589.1V566M342.7 605.5V613.1" stroke="#111" stroke-width="0.95" stroke-dasharray="1.3 1.9" fill="none"/>
<path d="M341.1 566H344.3M341.1 613.1H344.3" stroke="#111" stroke-width="0.95" fill="none"/>
<rect x="339.7" y="589.1" width="6" height="16.4" fill="#cbc3e3" stroke="#383838" stroke-width="0.95"/>
<path d="M339.7 597.4H345.7" stroke="#000" stroke-width="1.4"/>
<circle cx="349.4" cy="606.8" r="1.75" fill="#6a5acd"/>
<circle cx="349.4" cy="609.7" r="1.75" fill="#6a5acd"/>
<path d="M356.4 605.5V588.5M356.4 619.5V641.3" stroke="#111" stroke-width="0.95" stroke-dasharray="1.3 1.9" fill="none"/>
<path d="M354.8 588.5H358M354.8 641.3H358" stroke="#111" stroke-width="0.95" fill="none"/>
<rect x="353.3" y="605.5" width="6.2" height="14" fill="#ffc9c9" stroke="#383838" stroke-width="0.95"/>
<path d="M353.3 614.4H359.5" stroke="#000" stroke-width="1.4"/>
<circle cx="363.1" cy="604.4" r="1.75" fill="#db7093"/>
<circle cx="363.1" cy="616.6" r="1.75" fill="#db7093"/>
<path d="M370.1 620.4V597.8M370.1 640.6V688.6" stroke="#111" stroke-width="0.95" stroke-dasharray="1.3 1.9" fill="none"/>
<path d="M368.5 597.8H371.7M368.5 688.6H371.7" stroke="#111" stroke-width="0.95" fill="none"/>
<rect x="367.4" y="620.4" width="5.4" height="20.2" fill="#8fcfe3" stroke="#383838" stroke-width="0.95"/>
<path d="M367.4 630.6H372.8" stroke="#000" stroke-width="1.4"/>
<circle cx="376.8" cy="632.6" r="1.75" fill="#008b8b"/>
<circle cx="376.8" cy="640.9" r="1.75" fill="#008b8b"/>
<path d="M397.5 601.2V588.5M397.5 617.5V622.2" stroke="#111" stroke-width="0.95" stroke-dasharray="1.3 1.9" fill="none"/>
<path d="M395.9 588.5H399.1M395.9 622.2H399.1" stroke="#111" stroke-width="0.95" fill="none"/>
<rect x="394.3" y="601.2" width="6.4" height="16.3" fill="#cbc3e3" stroke="#383838" stroke-width="0.95"/>
<path d="M394.3 611.9H400.7" stroke="#000" stroke-width="1.4"/>
<circle cx="404.3" cy="616.1" r="1.75" fill="#6a5acd"/>
<circle cx="404.3" cy="620.2" r="1.75" fill="#6a5acd"/>
<path d="M411.2 611.5V595.4M411.2 625.5V641.1" stroke="#111" stroke-width="0.95" stroke-dasharray="1.3 1.9" fill="none"/>
<path d="M409.6 595.4H412.8M409.6 641.1H412.8" stroke="#111" stroke-width="0.95" fill="none"/>
<rect x="408.3" y="611.5" width="5.8" height="14" fill="#ffc9c9" stroke="#383838" stroke-width="0.95"/>
<path d="M408.3 618.4H414.1" stroke="#000" stroke-width="1.4"/>
<circle cx="417.8" cy="615.7" r="1.75" fill="#db7093"/>
<circle cx="417.8" cy="629.1" r="1.75" fill="#db7093"/>
<path d="M424.95 618.4V595.8M424.95 636.6V703" stroke="#111" stroke-width="0.95" stroke-dasharray="1.3 1.9" fill="none"/>
<path d="M423.35 595.8H426.55M423.35 703H426.55" stroke="#111" stroke-width="0.95" fill="none"/>
<rect x="422.1" y="618.4" width="5.7" height="18.2" fill="#8fcfe3" stroke="#383838" stroke-width="0.95"/>
<path d="M422.1 627.9H427.8" stroke="#000" stroke-width="1.4"/>
<circle cx="431.8" cy="628.8" r="1.75" fill="#008b8b"/>
<circle cx="431.8" cy="635.9" r="1.75" fill="#008b8b"/>
<rect x="470.3" y="563.9" width="5" height="5" fill="#cbc3e3"/>
<text transform="translate(481.3 569.2) scale(0.9259 1)" font-size="9.58" fill="#c5bcdc">High-risk without severe acute GvHD (n=16)</text>
<circle cx="473" cy="578.3" r="2.9" fill="#6a5acd"/>
<text transform="translate(481.3 580.5) scale(0.9259 1)" font-size="9.58" fill="#6a5acd">High-risk with severe acute GvHD (n=2)</text>
<rect x="470.3" y="586.5" width="5" height="5" fill="#ffc9c9"/>
<text transform="translate(481.3 591.8) scale(0.9259 1)" font-size="9.58" fill="#ffc4c4">Intermediate-risk without severe acute GvHD (n=37)</text>
<circle cx="473" cy="600.9" r="2.9" fill="#db7093"/>
<text transform="translate(481.3 603.1) scale(0.9259 1)" font-size="9.58" fill="#db7093">Intermediate-risk with severe acute GvHD (n=2)</text>
<rect x="470.3" y="609.1" width="5" height="5" fill="#8fcfe3"/>
<text transform="translate(481.3 614.4) scale(0.9259 1)" font-size="9.58" fill="#9ed3e3">Low-risk without severe acute GvHD (n=51)</text>
<circle cx="473" cy="623.5" r="2.9" fill="#008b8b"/>
<text transform="translate(481.3 625.7) scale(0.9259 1)" font-size="9.58" fill="#008b8b">Low-risk with severe acute GvHD (n=2)</text>
</svg></body></html>
